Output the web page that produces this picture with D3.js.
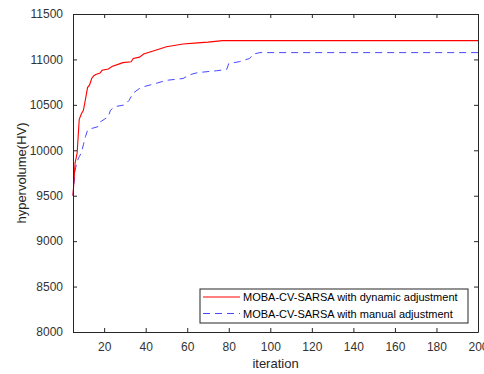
<!DOCTYPE html>
<html>
<head>
<meta charset="utf-8">
<script src="https://cdn.jsdelivr.net/npm/d3@7"></script>
<style>
  body { margin: 0; background: #fff; }
  text { font-family: "Liberation Sans", Arial, sans-serif; }
</style>
</head>
<body>
<div id="chart"></div>
<script>
var dynIter = [5, 6, 7, 8, 9, 10, 11, 12, 13, 14, 15, 16, 18, 19, 22, 24, 26, 29, 33, 34, 37, 39, 44, 50, 58, 65, 70, 77, 200];
var dynHV = [9500, 9860, 9970, 10340, 10400, 10440, 10560, 10690, 10720, 10790, 10820, 10835, 10850, 10880, 10895, 10925, 10940, 10965, 10975, 11010, 11025, 11060, 11095, 11140, 11170, 11182, 11190, 11207, 11207];
var manIter = [5, 6, 7, 8, 9, 10, 11, 12, 14, 17, 18, 20, 22, 23, 25, 30, 32, 34, 37, 39, 44, 50, 58, 61, 65, 74, 79, 80, 85, 90, 92, 95, 200];
var manHV = [9500, 9780, 9880, 9930, 9970, 10060, 10150, 10220, 10240, 10260, 10310, 10340, 10370, 10440, 10480, 10500, 10550, 10630, 10680, 10700, 10730, 10770, 10790, 10830, 10855, 10875, 10890, 10955, 10975, 11010, 11060, 11075, 11075];
var xTicks = [20, 40, 60, 80, 100, 120, 140, 160, 180, 200];
var yTicks = [8000, 8500, 9000, 9500, 10000, 10500, 11000, 11500];
var seriesNames = ["MOBA-CV-SARSA with dynamic adjustment", "MOBA-CV-SARSA with manual adjustment"];

var width = 484, height = 374;
var margin = {top: 14, right: 6, bottom: 42, left: 73};
var innerW = width - margin.left - margin.right;
var innerH = height - margin.top - margin.bottom;

var svg = d3.select("#chart").append("svg")
  .attr("width", width)
  .attr("height", height);

var g = svg.append("g")
  .attr("transform", "translate(" + margin.left + "," + margin.top + ")");

var x = d3.scaleLinear().domain([5, 200]).range([0, innerW]);
var y = d3.scaleLinear().domain([8000, 11500]).range([innerH, 0]);

var line = d3.line()
  .x(function(d) { return x(d[0]); })
  .y(function(d) { return y(d[1]); });

var dynData = d3.zip(dynIter, dynHV);
var manData = d3.zip(manIter, manHV);

g.append("path")
  .datum(manData)
  .attr("d", line)
  .attr("fill", "none")
  .attr("stroke", "#4848ff")
  .attr("stroke-width", 1)
  .attr("stroke-dasharray", "7,5");

g.append("path")
  .datum(dynData)
  .attr("d", line)
  .attr("fill", "none")
  .attr("stroke", "#ff0000")
  .attr("stroke-width", 1.1);

// axes, ticks pointing inward like matlab
function styleAxis(sel) {
  sel.select(".domain").attr("stroke", "#262626");
  sel.selectAll(".tick line").attr("stroke", "#262626");
  sel.selectAll(".tick text")
    .attr("fill", "#333333")
    .style("font-size", "12px")
    .style("font-family", "'Liberation Sans', Arial, sans-serif");
}

var xAxis = g.append("g")
  .attr("transform", "translate(0," + innerH + ")")
  .call(d3.axisBottom(x).tickValues(xTicks).tickSizeInner(-4).tickSizeOuter(0).tickPadding(10));
styleAxis(xAxis);

var xTop = g.append("g")
  .call(d3.axisTop(x).tickValues(xTicks).tickSizeInner(-4).tickSizeOuter(0).tickFormat(""));
styleAxis(xTop);

var yAxis = g.append("g")
  .call(d3.axisLeft(y).tickValues(yTicks).tickSizeInner(-4).tickSizeOuter(0).tickPadding(10).tickFormat(d3.format("d")));
styleAxis(yAxis);

var yRight = g.append("g")
  .attr("transform", "translate(" + innerW + ",0)")
  .call(d3.axisRight(y).tickValues(yTicks).tickSizeInner(-4).tickSizeOuter(0).tickFormat(""));
styleAxis(yRight);

// axis labels
svg.append("text")
  .attr("x", margin.left + innerW / 2)
  .attr("y", 368)
  .attr("text-anchor", "middle")
  .attr("fill", "#262626")
  .style("font-size", "13px")
  .text("iteration");

svg.append("text")
  .attr("transform", "translate(26," + (margin.top + innerH / 2) + ") rotate(-90)")
  .attr("text-anchor", "middle")
  .attr("fill", "#262626")
  .style("font-size", "13px")
  .text("hypervolume(HV)");

// legend
var legend = svg.append("g").attr("transform", "translate(200,289)");
legend.append("rect")
  .attr("width", 268)
  .attr("height", 34)
  .attr("fill", "#fff")
  .attr("stroke", "#262626")
  .attr("stroke-width", 1);

var legStyles = [
  {color: "#ff0000", dash: null},
  {color: "#4848ff", dash: "7,5"}
];

seriesNames.forEach(function(name, i) {
  var row = legend.append("g").attr("transform", "translate(0," + (8 + i * 16.5) + ")");
  row.append("line")
    .attr("x1", 3).attr("x2", 40)
    .attr("y1", 0).attr("y2", 0)
    .attr("stroke", legStyles[i].color)
    .attr("stroke-width", 1)
    .attr("stroke-dasharray", legStyles[i].dash);
  row.append("text")
    .attr("x", 43)
    .attr("y", 4)
    .attr("fill", "#000")
    .style("font-size", "11px")
    .text(name);
});
</script>
</body>
</html>
